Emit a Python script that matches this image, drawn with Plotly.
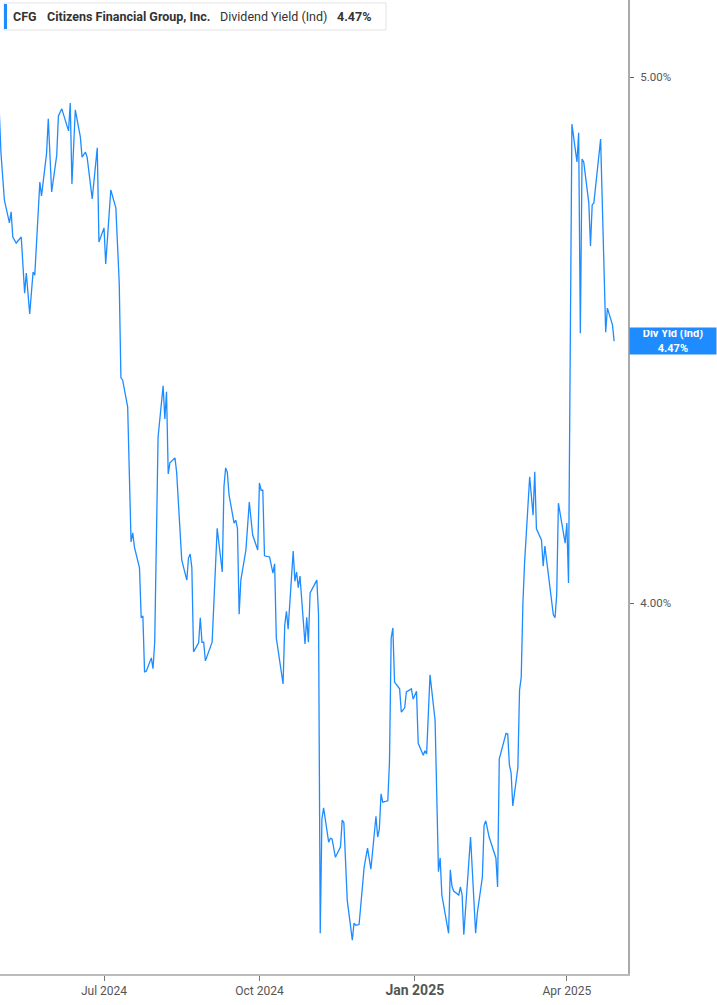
import plotly.graph_objects as go

# ---- data (dividend yield, %) ----
dates = [
    "2024-04-30","2024-05-01","2024-05-03","2024-05-06","2024-05-07","2024-05-08","2024-05-10","2024-05-13",
    "2024-05-15","2024-05-16","2024-05-18","2024-05-20","2024-05-21","2024-05-24","2024-05-25","2024-05-28",
    "2024-05-29","2024-05-31","2024-06-03","2024-06-04","2024-06-06","2024-06-10","2024-06-11","2024-06-12",
    "2024-06-14","2024-06-17","2024-06-18","2024-06-20","2024-06-21","2024-06-24","2024-06-27","2024-06-28",
    "2024-07-01","2024-07-02","2024-07-05","2024-07-08","2024-07-10","2024-07-11","2024-07-12","2024-07-15",
    "2024-07-17","2024-07-18","2024-07-19","2024-07-22","2024-07-23","2024-07-24","2024-07-25","2024-07-26",
    "2024-07-29","2024-07-30","2024-07-31","2024-08-02","2024-08-05","2024-08-06","2024-08-07","2024-08-08",
    "2024-08-09","2024-08-12","2024-08-13","2024-08-16","2024-08-19","2024-08-20","2024-08-21","2024-08-22",
    "2024-08-23","2024-08-26","2024-08-27","2024-08-28","2024-08-29","2024-08-30","2024-09-03","2024-09-04",
    "2024-09-06","2024-09-09","2024-09-10","2024-09-11","2024-09-12","2024-09-13","2024-09-16","2024-09-17",
    "2024-09-18","2024-09-19","2024-09-20","2024-09-23","2024-09-25","2024-09-27","2024-09-30","2024-10-01",
    "2024-10-02","2024-10-03","2024-10-04","2024-10-07","2024-10-09","2024-10-10","2024-10-11","2024-10-15",
    "2024-10-16","2024-10-17","2024-10-18","2024-10-21","2024-10-22","2024-10-23","2024-10-24","2024-10-25",
    "2024-10-28","2024-10-29","2024-10-30","2024-10-31","2024-11-04","2024-11-05","2024-11-06","2024-11-07",
    "2024-11-08","2024-11-11","2024-11-12","2024-11-13","2024-11-15","2024-11-18","2024-11-19","2024-11-20",
    "2024-11-22","2024-11-25","2024-11-26","2024-11-27","2024-11-29","2024-12-02","2024-12-04","2024-12-06",
    "2024-12-09","2024-12-10","2024-12-11","2024-12-12","2024-12-13","2024-12-16","2024-12-17","2024-12-18",
    "2024-12-19","2024-12-20","2024-12-23","2024-12-24","2024-12-26","2024-12-27","2024-12-30","2024-12-31",
    "2025-01-02","2025-01-03","2025-01-06","2025-01-07","2025-01-08","2025-01-10","2025-01-13","2025-01-15",
    "2025-01-16","2025-01-17","2025-01-21","2025-01-22","2025-01-23","2025-01-24","2025-01-27","2025-01-28",
    "2025-01-29","2025-01-30","2025-02-03","2025-02-06","2025-02-07","2025-02-10","2025-02-11","2025-02-12",
    "2025-02-14","2025-02-18","2025-02-19","2025-02-20","2025-02-24","2025-02-25","2025-02-26","2025-02-27",
    "2025-02-28","2025-03-03","2025-03-04","2025-03-05","2025-03-06","2025-03-07","2025-03-10","2025-03-12",
    "2025-03-13","2025-03-14","2025-03-17","2025-03-18","2025-03-19","2025-03-20","2025-03-24","2025-03-25",
    "2025-03-26","2025-03-27","2025-03-31","2025-04-01","2025-04-02","2025-04-04","2025-04-07","2025-04-08",
    "2025-04-09","2025-04-10","2025-04-11","2025-04-14","2025-04-15","2025-04-16","2025-04-17","2025-04-21",
    "2025-04-24","2025-04-25","2025-04-28","2025-04-29",
]
div_yield = [
    4.926,4.841,4.746,4.700,4.722,4.672,4.660,4.672,
    4.562,4.601,4.522,4.603,4.597,4.782,4.754,4.841,
    4.912,4.762,4.837,4.918,4.933,4.887,4.945,4.778,
    4.931,4.874,4.833,4.843,4.833,4.748,4.852,4.662,
    4.690,4.619,4.766,4.730,4.582,4.401,4.397,4.347,
    4.105,4.121,4.096,4.060,3.975,3.978,3.885,3.886,
    3.908,3.890,3.934,4.292,4.386,4.325,4.375,4.225,
    4.245,4.254,4.228,4.074,4.039,4.077,4.084,4.060,
    3.918,3.933,3.975,3.934,3.934,3.903,3.934,4.005,
    4.129,4.053,4.202,4.236,4.228,4.188,4.138,4.143,
    4.129,3.981,4.039,4.091,4.175,4.117,4.091,4.209,
    4.196,4.196,4.081,4.079,4.051,4.067,3.941,3.865,
    3.963,3.986,3.956,4.089,4.037,4.053,4.026,4.046,
    3.931,3.976,3.934,4.017,4.039,3.980,3.477,3.650,
    3.667,3.614,3.620,3.619,3.591,3.607,3.648,3.644,
    3.526,3.467,3.492,3.489,3.490,3.576,3.605,3.573,
    3.654,3.622,3.634,3.689,3.676,3.678,3.739,3.941,
    3.958,3.868,3.857,3.819,3.826,3.852,3.857,3.840,
    3.853,3.769,3.750,3.757,3.752,3.880,3.806,3.569,
    3.590,3.534,3.477,3.572,3.547,3.540,3.534,3.546,
    3.534,3.475,3.622,3.477,3.507,3.561,3.640,3.647,
    3.622,3.590,3.546,3.744,3.785,3.784,3.734,3.722,
    3.670,3.730,3.855,3.876,4.000,4.070,4.220,4.152,
    4.229,4.128,4.108,4.063,4.098,4.074,3.980,3.975,
    4.014,4.173,4.103,4.138,4.034,4.901,4.823,4.883,
    4.485,4.829,4.823,4.740,4.654,4.736,4.740,4.870,
    4.487,4.533,4.501,4.470,
]
ytick_vals = [4.0, 5.0]
ytick_text = ["4.00%", "5.00%"]
xtick_vals = ["2024-07-01", "2024-10-01", "2025-01-01", "2025-04-01"]
xtick_text = ["Jul 2024", "Oct 2024",
              "<span style='font-size:14px'><b>Jan 2025</b></span>", "Apr 2025"]
ticker = "CFG"
company = "Citizens Financial Group, Inc."
metric = "Dividend Yield (Ind)"
last_label = "Div Yld (Ind)"
last_value = div_yield[-1]

W, H = 717, 1005
PW, PH = 628, 974
BLUE = "#1e8cff"

def px(x):
    return x / PW

def py(y):
    return 1 - y / PH

fig = go.Figure()
fig.add_trace(go.Scatter(
    x=dates, y=div_yield, mode="lines",
    line=dict(color=BLUE, width=1.3),
    hoverinfo="skip", showlegend=False,
))

fig.update_layout(
    width=W, height=H,
    margin=dict(l=0, r=W - PW, t=0, b=H - PH),
    paper_bgcolor="white", plot_bgcolor="white",
    font=dict(family="Roboto, Arial, sans-serif", color="#555"),
    xaxis=dict(
        type="date",
        range=["2024-04-30 10:00", "2025-05-07 05:00"],
        tickvals=xtick_vals, ticktext=xtick_text,
        ticks="outside", ticklen=5, tickcolor="#777", tickwidth=1,
        showline=True, linecolor="#bbb", linewidth=2,
        showgrid=False, zeroline=False,
        tickfont=dict(size=12, color="#555"),
    ),
    yaxis=dict(
        type="log", side="right",
        range=[0.53371, 0.71316],
        tickvals=ytick_vals, ticktext=ytick_text,
        ticks="outside", ticklen=4, tickcolor="#666", tickwidth=1,
        ticklabelstandoff=4,
        showline=True, linecolor="#aaa", linewidth=2,
        showgrid=False, zeroline=False,
        tickfont=dict(size=11.5, color="#555"),
    ),
)

# header box
fig.add_shape(type="rect", xref="paper", yref="paper",
              x0=px(4), x1=px(386), y0=py(30), y1=py(3),
              line=dict(color="#e3e3e3", width=1), fillcolor="white", layer="above")
fig.add_shape(type="rect", xref="paper", yref="paper",
              x0=px(4), x1=px(7), y0=py(29), y1=py(4),
              line=dict(width=0), fillcolor=BLUE, layer="above")

hdr = [
    (11, f"<b>{ticker}</b>"),
    (45, f"<b>{company}</b>"),
    (218, metric),
    (335, f"<b>{last_value:.2f}%</b>"),
]
for x, t in hdr:
    fig.add_annotation(xref="paper", yref="paper", x=px(x), y=py(16),
                       text=t, showarrow=False, xanchor="left", yanchor="middle",
                       font=dict(size=12.5, color="#333", family="Roboto, Arial, sans-serif"))

# last value label on right
fig.add_annotation(xref="paper", yref="y", x=px(629), y=0.65031,
                   text=f"<b>{last_label}</b><br><b>{last_value:.2f}%</b>",
                   showarrow=False, xanchor="left", yanchor="middle",
                   align="center", bgcolor=BLUE, borderpad=2, width=82, height=22,
                   font=dict(size=11, color="white", family="Roboto, Arial, sans-serif"))

fig.write_html("out.html", config={"displayModeBar": False},
               post_script="document.body.style.margin='0';")
